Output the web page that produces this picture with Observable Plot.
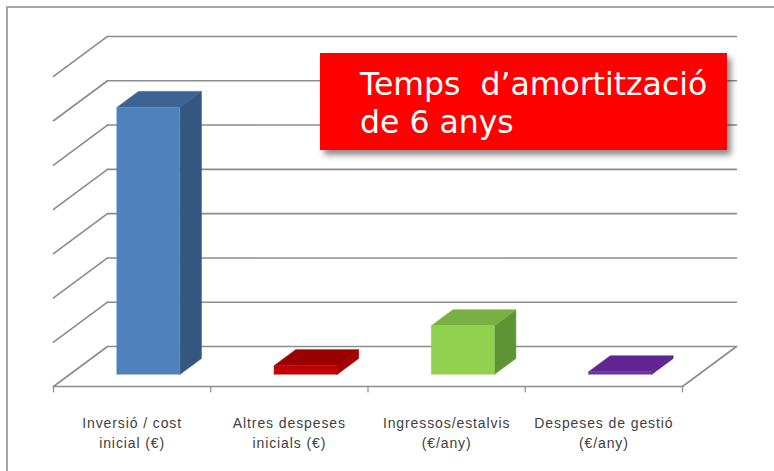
<!DOCTYPE html>
<html>
<head>
<meta charset="utf-8">
<script src="https://cdn.jsdelivr.net/npm/d3@7"></script>
<script src="https://cdn.jsdelivr.net/npm/@observablehq/plot@0.6"></script>
<style>
  html, body { margin: 0; padding: 0; background: #fff; }
  #wrap { position: relative; width: 774px; height: 471px; overflow: hidden; }
  #frame { position: absolute; left: 6px; top: 6px; width: 800px; height: 500px;
           border-left: 2px solid #a6a6a6; border-top: 2px solid #a6a6a6; }
  #chart { position: absolute; left: 0; top: 0; }
  #note { position: absolute; left: 320px; top: 53px; width: 407px; height: 97px;
          background: #ff0000; box-shadow: 4px 5px 6px rgba(0,0,0,0.45); }
  #note div { position: absolute; left: 40px; top: 12px; color: #fff;
          font-family: "DejaVu Sans", Verdana, sans-serif; font-size: 31.5px;
          line-height: 38px; white-space: pre; }
  #chart g[aria-label="text"] text { letter-spacing: 0.9px; }
</style>
</head>
<body>
<div id="wrap">
  <div id="frame"></div>
  <div id="chart"></div>
  <div id="note"><div>Temps  d’amortització
de 6 anys</div></div>
</div>
<script>
// ---- data ----
const categories = ["Inversió / cost\ninicial (€)", "Altres despeses\ninicials (€)", "Ingressos/estalvis\n(€/any)", "Despeses de gestió\n(€/any)"];
const values = [6.03, 0.2, 1.1, 0.06];
const gridValues = [0, 1, 2, 3, 4, 5, 6, 7];
const frontColors = ["#4F81BD", "#C00000", "#92D050", "#7030A0"];
const topColors = ["#3D6392", "#990000", "#78B043", "#5F2592"];
const sideColors = ["#34577F", "#A20000", "#5E9433", "#5A2388"];

// ---- oblique 3D projection in data units ----
const DX = 0.3434, DY = 0.903;   // depth offset of the floor (x in categories, y in value units)
const d0 = 0.3, d1 = 0.7;         // bar depth span
const bw0 = 0.3, bw1 = 0.7;       // bar span inside a category
const P = (x, v, d) => ({X: x + DX * d, Y: v + DY * d});

const n = categories.length;

// walls: back grid lines, side wall diagonals, floor edges
const gridRows = [];
gridValues.forEach(k => {
  const a = P(0, k, 1), b = P(n, k, 1);
  gridRows.push({id: "g" + k, ...a}, {id: "g" + k, ...b});
  const c = P(0, k, 0);
  gridRows.push({id: "s" + k, ...c}, {id: "s" + k, ...a});
});
gridRows.push({id: "f0", ...P(0, 0, 0)}, {id: "f0", ...P(n, 0, 0)});
gridRows.push({id: "f1", ...P(n, 0, 0)}, {id: "f1", ...P(n, 0, 1)});
const tickRows = [];
for (let i = 0; i <= n; i++) {
  tickRows.push({id: "t" + i, X: i, Y: 0}, {id: "t" + i, X: i, Y: -0.12});
}

// bar faces
const faces = [];
values.forEach((v, i) => {
  const x0 = i + bw0, x1 = i + bw1;
  const side = [P(x1, 0, d0), P(x1, 0, d1), P(x1, v, d1), P(x1, v, d0)];
  const top = [P(x0, v, d0), P(x0, v, d1), P(x1, v, d1), P(x1, v, d0)];
  const front = [P(x0, 0, d0), P(x0, v, d0), P(x1, v, d0), P(x1, 0, d0)];
  side.forEach(p => faces.push({id: "side" + i, color: sideColors[i], ...p}));
  top.forEach(p => faces.push({id: "top" + i, color: topColors[i], ...p}));
  front.forEach(p => faces.push({id: "front" + i, color: frontColors[i], ...p}));
});

const labels = categories.map((c, i) => ({X: i + 0.5, Y: -0.61, text: c}));

const pxPerUnit = 44.29;
const chart = Plot.plot({
  width: 774,
  height: 471,
  margin: 0,
  style: {background: "transparent", overflow: "visible"},
  x: {type: "linear", domain: [0, n], range: [53, 682], axis: null},
  y: {type: "linear", domain: [0, 7], range: [386, 386 - 7 * pxPerUnit], axis: null},
  color: {type: "identity"},
  marks: [
    Plot.line(gridRows, {x: "X", y: "Y", z: "id", stroke: "#8c8c8c", strokeWidth: 1.6}),
    Plot.line(tickRows, {x: "X", y: "Y", z: "id", stroke: "#8c8c8c", strokeWidth: 1.2}),
    Plot.line(faces, {x: "X", y: "Y", z: "id", fill: "color", stroke: "color", strokeWidth: 0.6}),
    Plot.text(labels, {x: "X", y: "Y", text: "text", lineAnchor: "top", lineHeight: 1.45,
      fontSize: 14, fill: "#404040", fontFamily: "'Liberation Sans', Arial, sans-serif"})
  ]
});
document.getElementById("chart").appendChild(chart);
</script>
</body>
</html>
